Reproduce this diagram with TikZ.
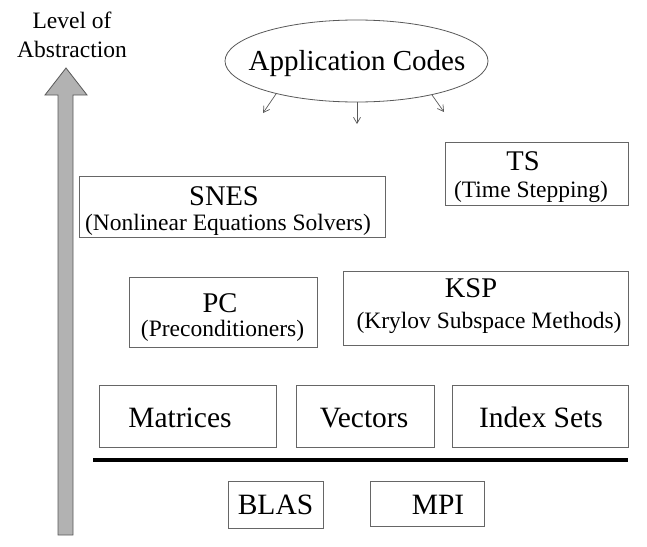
\documentclass[tikz,border=0pt]{standalone}
\usepackage{fontspec}
\setmainfont{Liberation Serif}
\usetikzlibrary{arrows.meta,shapes.geometric}
\tikzset{
  boxframe/.style={draw=black!60, line width=0.9pt, fill=none, inner sep=0pt},
  titletext/.style={anchor=base, inner sep=0pt, font=\fontsize{28.5}{32}\selectfont},
  subtext/.style={anchor=base, inner sep=0pt, font=\fontsize{23.5}{27}\selectfont},
  bigtext/.style={anchor=base, inner sep=0pt, font=\fontsize{29.5}{33}\selectfont},
  sidetext/.style={anchor=base, inner sep=0pt, font=\fontsize{23.5}{27}\selectfont},
  smallarrow/.style={draw=black!65, line width=0.7pt, -{Straight Barb[length=6pt,width=7pt]}}
}
\begin{document}
\begin{tikzpicture}[x=1pt,y=-1pt]
\useasboundingbox (0,0) rectangle (647,546);
% level of abstraction arrow
\filldraw[fill=black!30, draw=black!65, line width=0.8pt]
  (58,535) -- (58,95) -- (45,95) -- (66,68) -- (87,95) -- (73,95) -- (73,535) -- cycle;
\node[sidetext] (lvl) at (72,28) {Level of};
\node[sidetext] (abs) at (72,57) {Abstraction};
% application codes
\node[draw=black!65, line width=0.8pt, ellipse, minimum width=263pt, minimum height=82pt, inner sep=0pt] (app) at (356.5,61) {};
\node[anchor=base, inner sep=0pt, font=\fontsize{29}{33}\selectfont] (appT) at (357,70) {Application Codes};
\coordinate (a1s) at (276,94);
\coordinate (a1e) at (263,113);
\coordinate (a2s) at (357,102);
\coordinate (a2e) at (357,124);
\coordinate (a3s) at (432,95);
\coordinate (a3e) at (444,112);
\draw[smallarrow] (a1s) -- (a1e);
\draw[smallarrow] (a2s) -- (a2e);
\draw[smallarrow] (a3s) -- (a3e);
% TS
\node[boxframe, minimum width=183pt, minimum height=63pt] (ts) at (536.5,173.5) {};
\node[titletext] (tsT) at (523,170) {TS};
\node[subtext] (tsS) at (531,197) {(Time Stepping)};
% SNES
\node[boxframe, minimum width=306pt, minimum height=61pt] (snes) at (232,206.5) {};
\node[titletext] (snesT) at (224,205) {SNES};
\node[subtext] (snesS) at (228,230) {(Nonlinear Equations Solvers)};
% PC
\node[boxframe, minimum width=188pt, minimum height=70pt] (pc) at (223,312) {};
\node[titletext] (pcT) at (220,312) {PC};
\node[subtext] (pcS) at (222.5,336) {(Preconditioners)};
% KSP
\node[boxframe, minimum width=285pt, minimum height=74pt] (ksp) at (485.5,308) {};
\node[titletext] (kspT) at (471,297) {KSP};
\node[subtext] (kspS) at (489,328) {(Krylov Subspace Methods)};
% matrices, vectors, index sets
\node[boxframe, minimum width=177pt, minimum height=62pt] (mat) at (187.5,416) {};
\node[bigtext] (matT) at (180,427) {Matrices};
\node[boxframe, minimum width=138pt, minimum height=62pt] (vec) at (365,416.5) {};
\node[bigtext] (vecT) at (364,427.5) {Vectors};
\node[boxframe, minimum width=176pt, minimum height=62pt] (idx) at (540,416) {};
\node[bigtext] (idxT) at (541,427) {Index Sets};
% separator
\coordinate (sepL) at (93,460);
\coordinate (sepR) at (628,460);
\draw[line width=4pt] (sepL) -- (sepR);
% BLAS, MPI
\node[boxframe, minimum width=95pt, minimum height=47pt] (blas) at (275.5,504.5) {};
\node[bigtext] (blasT) at (275.5,514) {BLAS};
\node[boxframe, minimum width=114pt, minimum height=45pt] (mpi) at (427,503.5) {};
\node[bigtext] (mpiT) at (438,514) {MPI};
\end{tikzpicture}
\end{document}
